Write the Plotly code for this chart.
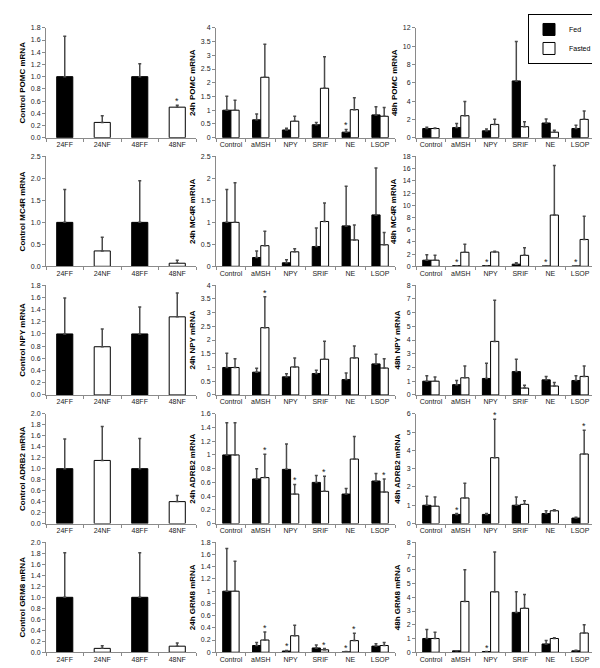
import plotly.graph_objects as go

W, H = 600, 668

ctrl_cats = ["24FF", "24NF", "48FF", "48NF"]
trt_cats = ["Control", "aMSH", "NPY", "SRIF", "NE", "LSOP"]
genes = ["POMC", "MC4R", "NPY", "ADRB2", "GRM8"]

# ---- Control column (mean, SEM, significance) ----
ctrl_pomc_val = [1.0, 0.25, 1.0, 0.5]
ctrl_pomc_err = [0.66, 0.11, 0.21, 0.03]
ctrl_pomc_sig = [0, 0, 0, 1]
ctrl_mc4r_val = [1.0, 0.35, 1.0, 0.07]
ctrl_mc4r_err = [0.75, 0.31, 0.95, 0.07]
ctrl_mc4r_sig = [0, 0, 0, 0]
ctrl_npy_val = [1.0, 0.79, 1.0, 1.28]
ctrl_npy_err = [0.59, 0.29, 0.44, 0.39]
ctrl_npy_sig = [0, 0, 0, 0]
ctrl_adrb2_val = [1.0, 1.15, 1.0, 0.4]
ctrl_adrb2_err = [0.54, 0.62, 0.55, 0.11]
ctrl_adrb2_sig = [0, 0, 0, 0]
ctrl_grm8_val = [1.0, 0.07, 1.0, 0.11]
ctrl_grm8_err = [0.81, 0.05, 0.81, 0.06]
ctrl_grm8_sig = [0, 0, 0, 0]

# ---- 24h column ----
h24_pomc_fed = [1.0, 0.65, 0.28, 0.47, 0.2, 0.83]
h24_pomc_fed_err = [0.51, 0.21, 0.06, 0.08, 0.1, 0.3]
h24_pomc_fed_sig = [0, 0, 0, 0, 1, 0]
h24_pomc_fast = [1.0, 2.2, 0.6, 1.8, 1.02, 0.78]
h24_pomc_fast_err = [0.36, 1.2, 0.18, 1.15, 0.43, 0.32]
h24_pomc_fast_sig = [0, 0, 0, 0, 0, 0]

h24_mc4r_fed = [1.0, 0.2, 0.08, 0.45, 0.92, 1.17]
h24_mc4r_fed_err = [0.75, 0.15, 0.07, 0.42, 0.9, 1.07]
h24_mc4r_fed_sig = [0, 0, 0, 0, 0, 0]
h24_mc4r_fast = [1.0, 0.47, 0.33, 1.02, 0.6, 0.49]
h24_mc4r_fast_err = [0.9, 0.33, 0.07, 0.42, 0.34, 0.28]
h24_mc4r_fast_sig = [0, 0, 0, 0, 0, 0]

h24_npy_fed = [1.0, 0.83, 0.66, 0.78, 0.56, 1.13]
h24_npy_fed_err = [0.52, 0.14, 0.11, 0.12, 0.24, 0.35]
h24_npy_fed_sig = [0, 0, 0, 0, 0, 0]
h24_npy_fast = [1.0, 2.45, 1.02, 1.3, 1.35, 0.98]
h24_npy_fast_err = [0.32, 1.13, 0.33, 0.66, 0.43, 0.34]
h24_npy_fast_sig = [0, 1, 0, 0, 0, 0]

h24_adrb2_fed = [1.0, 0.65, 0.79, 0.6, 0.43, 0.62]
h24_adrb2_fed_err = [0.47, 0.15, 0.37, 0.1, 0.08, 0.11]
h24_adrb2_fed_sig = [0, 0, 0, 0, 0, 0]
h24_adrb2_fast = [1.0, 0.67, 0.43, 0.47, 0.94, 0.46]
h24_adrb2_fast_err = [0.47, 0.34, 0.14, 0.22, 0.33, 0.19]
h24_adrb2_fast_sig = [0, 1, 1, 1, 0, 1]

h24_grm8_fed = [1.0, 0.11, 0.02, 0.07, 0.005, 0.1]
h24_grm8_fed_err = [0.7, 0.05, 0.01, 0.05, 0.005, 0.04]
h24_grm8_fed_sig = [0, 0, 1, 0, 1, 0]
h24_grm8_fast = [1.0, 0.2, 0.27, 0.04, 0.19, 0.11]
h24_grm8_fast_err = [0.49, 0.13, 0.17, 0.02, 0.12, 0.05]
h24_grm8_fast_sig = [0, 1, 0, 1, 1, 0]

# ---- 48h column ----
h48_pomc_fed = [1.0, 1.1, 0.75, 6.2, 1.6, 1.0]
h48_pomc_fed_err = [0.15, 0.45, 0.2, 4.3, 0.45, 0.35]
h48_pomc_fed_sig = [0, 0, 0, 0, 0, 0]
h48_pomc_fast = [1.0, 2.4, 1.45, 1.2, 0.6, 2.0]
h48_pomc_fast_err = [0.05, 1.55, 0.55, 0.55, 0.2, 0.9]
h48_pomc_fast_sig = [0, 0, 0, 0, 0, 0]

h48_mc4r_fed = [1.0, 0.1, 0.1, 0.35, 0.05, 0.05]
h48_mc4r_fed_err = [0.9, 0.0, 0.0, 0.25, 0.0, 0.0]
h48_mc4r_fed_sig = [0, 1, 1, 0, 1, 1]
h48_mc4r_fast = [1.0, 2.3, 2.35, 1.8, 8.4, 4.4]
h48_mc4r_fast_err = [0.8, 1.3, 0.1, 1.25, 8.1, 3.8]
h48_mc4r_fast_sig = [0, 0, 0, 0, 0, 0]

h48_npy_fed = [1.0, 0.75, 1.2, 1.7, 1.1, 1.05]
h48_npy_fed_err = [0.4, 0.3, 1.1, 0.9, 0.25, 0.35]
h48_npy_fed_sig = [0, 0, 0, 0, 0, 0]
h48_npy_fast = [1.0, 1.25, 3.9, 0.5, 0.65, 1.35]
h48_npy_fast_err = [0.3, 0.85, 3.0, 0.2, 0.25, 0.75]
h48_npy_fast_sig = [0, 0, 0, 0, 0, 0]

h48_adrb2_fed = [1.0, 0.5, 0.5, 1.0, 0.55, 0.3]
h48_adrb2_fed_err = [0.5, 0.05, 0.05, 0.45, 0.15, 0.05]
h48_adrb2_fed_sig = [0, 1, 0, 0, 0, 0]
h48_adrb2_fast = [0.95, 1.4, 3.6, 1.05, 0.7, 3.8]
h48_adrb2_fast_err = [0.5, 0.8, 2.1, 0.2, 0.05, 1.3]
h48_adrb2_fast_sig = [0, 0, 1, 0, 0, 1]

h48_grm8_fed = [1.0, 0.1, 0.05, 2.9, 0.6, 0.1]
h48_grm8_fed_err = [0.65, 0.0, 0.0, 1.5, 0.25, 0.05]
h48_grm8_fed_sig = [0, 0, 1, 0, 0, 0]
h48_grm8_fast = [1.0, 3.7, 4.4, 3.2, 1.0, 1.4]
h48_grm8_fast_err = [0.45, 2.3, 2.9, 1.0, 0.05, 0.6]
h48_grm8_fast_sig = [0, 0, 0, 0, 0, 0]

# axis ranges / tick steps per row (control, 24h, 48h)
ctrl_ymax = [1.8, 2.5, 1.8, 2.0, 2.0]
ctrl_dtick = [0.2, 0.5, 0.2, 0.2, 0.2]
h24_ymax = [4, 2.5, 4, 1.6, 1.8]
h24_dtick = [0.5, 0.5, 0.5, 0.2, 0.2]
h48_ymax = [12, 18, 8, 6, 8]
h48_dtick = [2, 2, 1, 1, 1]

ctrl_data = [
    (ctrl_pomc_val, ctrl_pomc_err, ctrl_pomc_sig),
    (ctrl_mc4r_val, ctrl_mc4r_err, ctrl_mc4r_sig),
    (ctrl_npy_val, ctrl_npy_err, ctrl_npy_sig),
    (ctrl_adrb2_val, ctrl_adrb2_err, ctrl_adrb2_sig),
    (ctrl_grm8_val, ctrl_grm8_err, ctrl_grm8_sig),
]
h24_data = [
    (h24_pomc_fed, h24_pomc_fed_err, h24_pomc_fed_sig, h24_pomc_fast, h24_pomc_fast_err, h24_pomc_fast_sig),
    (h24_mc4r_fed, h24_mc4r_fed_err, h24_mc4r_fed_sig, h24_mc4r_fast, h24_mc4r_fast_err, h24_mc4r_fast_sig),
    (h24_npy_fed, h24_npy_fed_err, h24_npy_fed_sig, h24_npy_fast, h24_npy_fast_err, h24_npy_fast_sig),
    (h24_adrb2_fed, h24_adrb2_fed_err, h24_adrb2_fed_sig, h24_adrb2_fast, h24_adrb2_fast_err, h24_adrb2_fast_sig),
    (h24_grm8_fed, h24_grm8_fed_err, h24_grm8_fed_sig, h24_grm8_fast, h24_grm8_fast_err, h24_grm8_fast_sig),
]
h48_data = [
    (h48_pomc_fed, h48_pomc_fed_err, h48_pomc_fed_sig, h48_pomc_fast, h48_pomc_fast_err, h48_pomc_fast_sig),
    (h48_mc4r_fed, h48_mc4r_fed_err, h48_mc4r_fed_sig, h48_mc4r_fast, h48_mc4r_fast_err, h48_mc4r_fast_sig),
    (h48_npy_fed, h48_npy_fed_err, h48_npy_fed_sig, h48_npy_fast, h48_npy_fast_err, h48_npy_fast_sig),
    (h48_adrb2_fed, h48_adrb2_fed_err, h48_adrb2_fed_sig, h48_adrb2_fast, h48_adrb2_fast_err, h48_adrb2_fast_sig),
    (h48_grm8_fed, h48_grm8_fed_err, h48_grm8_fed_sig, h48_grm8_fast, h48_grm8_fast_err, h48_grm8_fast_sig),
]

FONT = "Liberation Sans, Arial, sans-serif"
AXC = "#8a8a8a"
ERRC = "#4a4a4a"

col_px = [(38, 188), (208, 387), (408, 587)]
row_top0, row_h, row_step = 16, 111, 130

fig = go.Figure()
layout = dict(
    width=W, height=H, margin=dict(l=0, r=0, t=0, b=0),
    paper_bgcolor="white", plot_bgcolor="white",
    barmode="group", bargap=0.45, bargroupgap=0.0,
    font=dict(family=FONT, size=7, color="#222"),
    showlegend=True,
    legend=dict(x=520 / W, y=1 - 2 / H, xanchor="left", yanchor="top",
                bordercolor="black", borderwidth=1, bgcolor="white",
                font=dict(family=FONT, size=7, color="black"),
                itemwidth=30, tracegroupgap=0),
)
annotations = []


def err_kw(err):
    return dict(type="data", array=err, arrayminus=[0] * len(err), symmetric=False,
                color=ERRC, thickness=1.5, width=1.5)


def add_stars(cats, vals, errs, sig, xa, ya, shift):
    for c, v, e, s in zip(cats, vals, errs, sig):
        if s:
            annotations.append(dict(x=c, y=v + e, xref=xa, yref=ya, text="*", showarrow=False,
                                    xshift=shift, yanchor="bottom", yshift=-3,
                                    font=dict(family=FONT, size=9, color="#222")))


for r in range(5):
    for c in range(3):
        k = r * 3 + c + 1
        xa = "x" if k == 1 else f"x{k}"
        ya = "y" if k == 1 else f"y{k}"
        x0, x1 = col_px[c]
        top = row_top0 + r * row_step
        bot = top + row_h
        if c == 0:
            ymax, dt, prefix, cats = ctrl_ymax[r], ctrl_dtick[r], "Control", ctrl_cats
        elif c == 1:
            ymax, dt, prefix, cats = h24_ymax[r], h24_dtick[r], "24h", trt_cats
        else:
            ymax, dt, prefix, cats = h48_ymax[r], h48_dtick[r], "48h", trt_cats

        layout["xaxis" if k == 1 else f"xaxis{k}"] = dict(
            domain=[x0 / W, x1 / W], anchor=ya, type="category",
            categoryorder="array", categoryarray=cats, tickangle=0,
            showline=True, linecolor=AXC, linewidth=1, ticks="outside", tickson="boundaries",
            ticklen=3, tickcolor=AXC, showgrid=False, zeroline=False,
            tickfont=dict(family=FONT, size=7, color="#222"), fixedrange=True)
        layout["yaxis" if k == 1 else f"yaxis{k}"] = dict(
            domain=[1 - bot / H, 1 - top / H], anchor=xa, range=[0, ymax],
            tick0=0, dtick=dt, tickformat=".1f" if c == 0 else "",
            showline=True, linecolor=AXC, linewidth=1, ticks="outside", ticklen=3,
            tickcolor=AXC, showgrid=False, zeroline=False,
            tickfont=dict(family=FONT, size=7, color="#222"),
            title=dict(text=f"<b>{prefix} {genes[r]} mRNA</b>", standoff=4,
                       font=dict(family=FONT, size=8, color="black")))

        if c == 0:
            vals, errs, sig = ctrl_data[r]
            colors = ["black" if "FF" in cc else "white" for cc in cats]
            fig.add_trace(go.Bar(x=cats, y=vals, width=0.43, xaxis=xa, yaxis=ya,
                                 marker=dict(color=colors, line=dict(color="black", width=1)),
                                 error_y=err_kw(errs), showlegend=False, hoverinfo="skip"))
            add_stars(cats, vals, errs, sig, xa, ya, 0)
        else:
            d = h24_data[r] if c == 1 else h48_data[r]
            fed, fed_e, fed_s, fast, fast_e, fast_s = d
            first = (r == 0 and c == 2)
            fig.add_trace(go.Bar(x=cats, y=fed, name="Fed", xaxis=xa, yaxis=ya,
                                 marker=dict(color="black", line=dict(color="black", width=1)),
                                 error_y=err_kw(fed_e), legendgroup="fed", showlegend=first,
                                 hoverinfo="skip"))
            fig.add_trace(go.Bar(x=cats, y=fast, name="Fasted", xaxis=xa, yaxis=ya,
                                 marker=dict(color="white", line=dict(color="black", width=1)),
                                 error_y=err_kw(fast_e), legendgroup="fast", showlegend=first,
                                 hoverinfo="skip"))
            add_stars(cats, fed, fed_e, fed_s, xa, ya, -4)
            add_stars(cats, fast, fast_e, fast_s, xa, ya, 4)

layout["annotations"] = annotations
fig.update_layout(**layout)
fig.write_html("out.html")
